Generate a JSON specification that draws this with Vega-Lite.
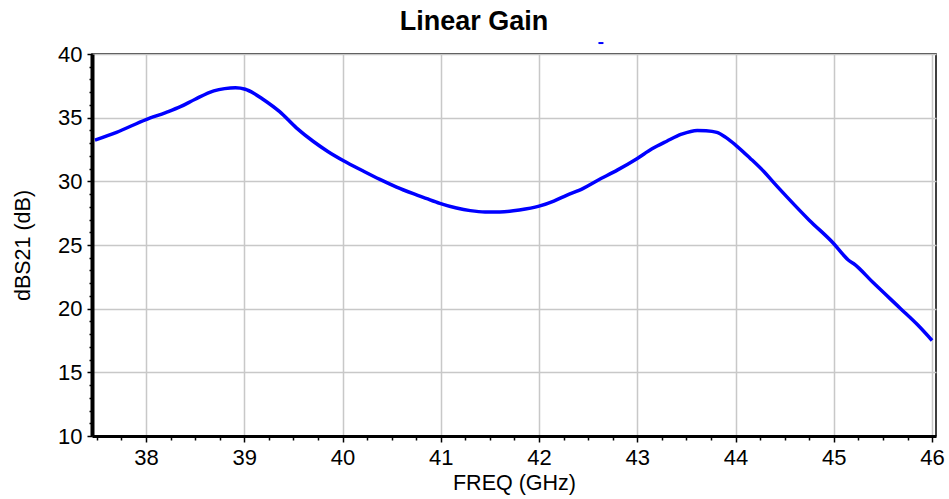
{
  "$schema": "https://vega.github.io/schema/vega-lite/v6.json",
  "autosize": "none",
  "width": 844,
  "height": 382,
  "padding": {"left": 92, "top": 54, "right": 13, "bottom": 63},
  "background": "white",
  "title": {
    "text": "Linear Gain",
    "font": "Liberation Sans",
    "fontSize": 27,
    "fontWeight": "bold",
    "color": "black",
    "anchor": "middle",
    "frame": "group",
    "dx": -40,
    "offset": 6
  },
  "config": {
    "view": {"stroke": "black", "strokeWidth": 1.5},
    "axis": {
      "labelFont": "Liberation Sans",
      "titleFont": "Liberation Sans",
      "labelColor": "black",
      "titleColor": "black",
      "labelFontSize": 22,
      "titleFontSize": 21.5,
      "titleFontWeight": "normal",
      "domainColor": "black",
      "tickColor": "black",
      "gridColor": "#c8c8c8",
      "gridWidth": 1.5,
      "labelOverlap": false
    }
  },
  "data": {
    "values": [
      {"series": "curve", "freq": 37.48, "db": 33.24},
      {"series": "curve", "freq": 37.7, "db": 33.85},
      {"series": "curve", "freq": 38.0, "db": 34.85},
      {"series": "curve", "freq": 38.2, "db": 35.4},
      {"series": "curve", "freq": 38.35, "db": 35.86},
      {"series": "curve", "freq": 38.5, "db": 36.45},
      {"series": "curve", "freq": 38.69, "db": 37.1},
      {"series": "curve", "freq": 38.8, "db": 37.28},
      {"series": "curve", "freq": 38.91, "db": 37.35},
      {"series": "curve", "freq": 39.01, "db": 37.23},
      {"series": "curve", "freq": 39.1, "db": 36.9},
      {"series": "curve", "freq": 39.19, "db": 36.45},
      {"series": "curve", "freq": 39.36, "db": 35.47},
      {"series": "curve", "freq": 39.53, "db": 34.2},
      {"series": "curve", "freq": 39.7, "db": 33.15},
      {"series": "curve", "freq": 39.85, "db": 32.35},
      {"series": "curve", "freq": 40.01, "db": 31.62},
      {"series": "curve", "freq": 40.2, "db": 30.85},
      {"series": "curve", "freq": 40.38, "db": 30.15},
      {"series": "curve", "freq": 40.55, "db": 29.55},
      {"series": "curve", "freq": 40.72, "db": 29.03},
      {"series": "curve", "freq": 40.85, "db": 28.66},
      {"series": "curve", "freq": 40.99, "db": 28.27},
      {"series": "curve", "freq": 41.16, "db": 27.9},
      {"series": "curve", "freq": 41.3, "db": 27.7},
      {"series": "curve", "freq": 41.45, "db": 27.6},
      {"series": "curve", "freq": 41.6, "db": 27.6},
      {"series": "curve", "freq": 41.8, "db": 27.75},
      {"series": "curve", "freq": 42.0, "db": 28.05},
      {"series": "curve", "freq": 42.15, "db": 28.45},
      {"series": "curve", "freq": 42.28, "db": 28.9},
      {"series": "curve", "freq": 42.45, "db": 29.45},
      {"series": "curve", "freq": 42.59, "db": 30.05},
      {"series": "curve", "freq": 42.8, "db": 30.9},
      {"series": "curve", "freq": 43.0, "db": 31.8},
      {"series": "curve", "freq": 43.15, "db": 32.55},
      {"series": "curve", "freq": 43.3, "db": 33.15},
      {"series": "curve", "freq": 43.45, "db": 33.7},
      {"series": "curve", "freq": 43.61, "db": 34.0},
      {"series": "curve", "freq": 43.7, "db": 33.98},
      {"series": "curve", "freq": 43.81, "db": 33.85},
      {"series": "curve", "freq": 43.9, "db": 33.45},
      {"series": "curve", "freq": 44.0, "db": 32.85},
      {"series": "curve", "freq": 44.15, "db": 31.8},
      {"series": "curve", "freq": 44.29, "db": 30.75},
      {"series": "curve", "freq": 44.4, "db": 29.8},
      {"series": "curve", "freq": 44.52, "db": 28.8},
      {"series": "curve", "freq": 44.75, "db": 26.95},
      {"series": "curve", "freq": 45.0, "db": 25.1},
      {"series": "curve", "freq": 45.1, "db": 24.2},
      {"series": "curve", "freq": 45.15, "db": 23.8},
      {"series": "curve", "freq": 45.2, "db": 23.55},
      {"series": "curve", "freq": 45.4, "db": 22.05},
      {"series": "curve", "freq": 45.68, "db": 20.0},
      {"series": "curve", "freq": 45.85, "db": 18.75},
      {"series": "curve", "freq": 46.0, "db": 17.5},
      {"series": "marker", "freq": 42.63, "db": 40.86}
    ]
  },
  "encoding": {
    "x": {
      "field": "freq",
      "type": "quantitative",
      "scale": {"domain": [37.45, 46.04], "nice": false, "zero": false},
      "axis": {
        "title": "FREQ (GHz)",
        "values": [37.5, 37.75, 38, 38.25, 38.5, 38.75, 39, 39.25, 39.5, 39.75, 40, 40.25, 40.5, 40.75, 41, 41.25, 41.5, 41.75, 42, 42.25, 42.5, 42.75, 43, 43.25, 43.5, 43.75, 44, 44.25, 44.5, 44.75, 45, 45.25, 45.5, 45.75, 46],
        "labelExpr": "datum.value % 1 === 0 ? format(datum.value, 'd') : ''",
        "tickSize": {"condition": {"test": "datum.value % 1 === 0", "value": 6}, "value": 4},
        "tickWidth": 1.5,
        "gridOpacity": {"condition": {"test": "datum.value % 1 === 0", "value": 1}, "value": 0},
        "labelPadding": 5,
        "domainWidth": 3,
        "titlePadding": 4
      }
    },
    "y": {
      "field": "db",
      "type": "quantitative",
      "scale": {"domain": [10, 40], "nice": false, "zero": false},
      "axis": {
        "title": "dBS21 (dB)",
        "values": [10, 11, 12, 13, 14, 15, 16, 17, 18, 19, 20, 21, 22, 23, 24, 25, 26, 27, 28, 29, 30, 31, 32, 33, 34, 35, 36, 37, 38, 39, 40],
        "labelExpr": "datum.value % 5 === 0 ? format(datum.value, 'd') : ''",
        "tickSize": {"condition": {"test": "datum.value % 5 === 0", "value": 5}, "value": 3},
        "tickWidth": 1.5,
        "gridOpacity": {"condition": {"test": "datum.value % 5 === 0", "value": 1}, "value": 0},
        "labelPadding": 5,
        "domainWidth": 4,
        "titlePadding": 23
      }
    }
  },
  "layer": [
    {
      "transform": [{"filter": "datum.series === 'curve'"}],
      "mark": {"type": "line", "color": "#0000ff", "strokeWidth": 3.5, "interpolate": "monotone", "clip": true}
    },
    {
      "transform": [{"filter": "datum.series === 'marker'"}],
      "mark": {"type": "tick", "color": "#0000ff", "orient": "horizontal", "size": 5, "thickness": 2, "clip": false, "opacity": 1}
    }
  ]
}
